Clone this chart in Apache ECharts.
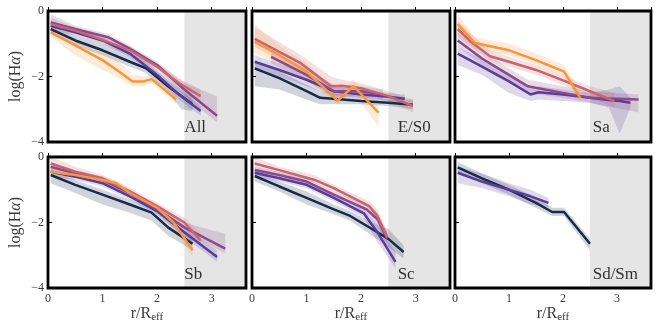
<!DOCTYPE html>
<html>
<head>
<meta charset="utf-8">
<script src="https://cdn.jsdelivr.net/npm/echarts@6/dist/echarts.min.js"></script>
<style>
  html, body { margin: 0; padding: 0; background: #fff; }
  #myChart { width: 658px; height: 327px; }
</style>
</head>
<body>
<div id="myChart"></div>
<script>
// each point: [r/Reff, log(Ha), band low, band high]
const navyAll = [[0.05,-0.55,-0.7,-0.4],[0.5,-0.9,-1.05,-0.75],[1,-1.2,-1.35,-1.0],[1.5,-1.55,-1.7,-1.3],[1.8,-1.75,-1.9,-1.5],[2.2,-2.3,-2.5,-2.1],[2.45,-2.6,-3.0,-2.4],[2.65,-2.85,-3.05,-2.65]];
const purpleAll = [[0.05,-0.45,-0.6,-0.3],[0.5,-0.65,-0.75,-0.55],[1,-0.9,-1.0,-0.8],[1.5,-1.3,-1.4,-1.2],[2,-1.95,-2.05,-1.85],[2.4,-2.55,-2.7,-2.4],[2.8,-3.05,-3.2,-2.9]];
const magentaAll = [[0.05,-0.35,-0.55,-0.1],[0.5,-0.55,-0.65,-0.45],[1.1,-0.8,-0.9,-0.7],[1.5,-1.15,-1.25,-1.05],[2,-1.65,-1.75,-1.55],[2.5,-2.4,-2.6,-2.2],[3.1,-3.2,-3.4,-2.6]];
const roseAll = [[0.05,-0.4,-0.5,-0.2],[0.5,-0.6,-0.7,-0.5],[1,-0.88,-0.98,-0.78],[1.5,-1.2,-1.3,-1.1],[2,-1.7,-1.8,-1.6],[2.4,-2.2,-2.35,-2.05],[2.8,-2.6,-2.8,-2.4]];
const orangeAll = [[0.05,-0.65,-0.8,-0.45],[0.5,-1.05,-1.35,-0.85],[1,-1.5,-1.8,-1.2],[1.3,-1.85,-2.05,-1.55],[1.55,-2.15,-2.3,-1.95],[1.75,-2.15,-2.3,-2.0],[1.9,-2.08,-2.2,-1.95],[2.35,-2.7,-2.85,-2.55]];

const navyE = [[0.05,-1.75,-2.3,-1.55],[0.5,-2.05,-2.4,-1.85],[1,-2.45,-2.7,-2.25],[1.25,-2.65,-2.85,-2.45],[2,-2.75,-2.85,-2.6],[2.5,-2.8,-2.9,-2.7],[2.95,-2.86,-3.0,-2.7]];
const purpleE = [[0.05,-1.55,-1.8,-1.35],[0.5,-1.8,-2.0,-1.6],[1,-2.1,-2.3,-1.9],[1.5,-2.45,-2.6,-2.3],[2,-2.55,-2.65,-2.4],[2.5,-2.62,-2.75,-2.5],[2.8,-2.68,-2.8,-2.55]];
const magentaE = [[0.35,-1.4,-1.6,-1.2],[1,-1.95,-2.15,-1.75],[1.5,-2.45,-2.6,-2.25],[2,-2.45,-2.6,-2.3],[2.4,-2.55,-2.7,-2.4]];
const roseE = [[0.05,-0.85,-1.1,-0.5],[0.5,-1.25,-1.5,-0.95],[0.9,-1.6,-1.85,-1.35],[1.45,-2.3,-2.45,-2.0],[1.65,-2.28,-2.45,-2.1],[2,-2.36,-2.5,-2.2],[2.5,-2.6,-2.75,-2.45],[2.95,-2.9,-3.1,-2.7]];
const orangeE = [[0.05,-0.94,-1.3,-0.4],[0.5,-1.35,-1.6,-1.05],[1,-1.85,-2.05,-1.6],[1.57,-2.74,-2.85,-2.5],[1.86,-2.29,-2.45,-2.1],[2.32,-3.1,-3.55,-2.9]];

const orangeSa = [[0.05,-0.4,-0.7,-0.1],[0.37,-0.98,-1.15,-0.8],[1,-1.2,-1.35,-1.0],[1.5,-1.5,-1.65,-1.3],[2.02,-1.85,-2.0,-1.65],[2.32,-2.65,-2.8,-2.45]];
const roseSa = [[0.05,-0.55,-0.8,-0.3],[0.3,-0.95,-1.1,-0.7],[0.65,-1.38,-1.5,-1.2],[1,-1.55,-1.7,-1.4],[1.5,-1.8,-1.95,-1.65],[2.05,-2.15,-2.3,-2.0],[2.5,-2.45,-2.65,-2.3],[2.95,-2.75,-2.95,-2.5]];
const magentaSa = [[0.05,-0.9,-1.1,-0.65],[0.5,-1.45,-1.65,-1.25],[1,-1.95,-2.15,-1.75],[1.35,-2.3,-2.5,-2.1],[2,-2.5,-2.65,-2.3],[2.5,-2.65,-2.8,-2.45],[3.4,-2.7,-3.1,-2.55]];
const purpleSa = [[0.05,-1.3,-1.65,-1.1],[0.5,-1.7,-1.95,-1.45],[1,-2.15,-2.5,-1.95],[1.4,-2.55,-2.75,-2.35],[1.55,-2.48,-2.7,-2.3],[2,-2.55,-2.75,-2.4],[2.5,-2.65,-2.8,-2.5],[2.85,-2.72,-2.95,-2.4],[3.05,-2.75,-3.75,-2.3],[3.25,-2.8,-2.95,-2.65]];

const navySb = [[0.05,-0.55,-0.8,-0.4],[0.5,-0.85,-1.1,-0.7],[1,-1.15,-1.45,-1.0],[1.5,-1.45,-1.7,-1.3],[1.9,-1.7,-1.95,-1.55],[2.2,-2.15,-2.4,-1.95],[2.65,-2.65,-2.85,-2.45]];
const purpleSb = [[0.05,-0.45,-0.6,-0.3],[0.5,-0.6,-0.7,-0.5],[1,-0.8,-0.9,-0.7],[1.5,-1.2,-1.3,-1.1],[2,-1.65,-1.75,-1.55],[2.5,-2.3,-2.45,-2.15],[3.1,-3.05,-3.2,-2.85]];
const magentaSb = [[0.05,-0.3,-0.45,-0.15],[0.5,-0.5,-0.6,-0.4],[1,-0.7,-0.8,-0.6],[1.5,-1.1,-1.2,-1.0],[2,-1.6,-1.7,-1.5],[2.5,-2.15,-2.3,-2.0],[3.25,-2.8,-2.95,-2.35]];
const roseSb = [[0.05,-0.2,-0.35,0],[0.5,-0.45,-0.55,-0.3],[1,-0.65,-0.75,-0.55],[1.5,-1.05,-1.15,-0.95],[2,-1.5,-1.6,-1.4],[2.5,-2.0,-2.15,-1.85],[2.8,-2.55,-2.7,-2.35]];
const orangeSb = [[0.05,-0.45,-0.6,-0.3],[0.5,-0.55,-0.65,-0.45],[1,-0.7,-0.8,-0.6],[1.25,-0.8,-0.9,-0.7],[1.5,-1.1,-1.2,-1.0],[2,-1.55,-1.65,-1.45],[2.3,-2.0,-2.15,-1.85],[2.65,-2.85,-3.05,-2.6]];

const navySc = [[0.05,-0.58,-0.75,-0.45],[0.5,-0.9,-1.05,-0.75],[1,-1.25,-1.45,-1.05],[1.5,-1.6,-1.75,-1.45],[1.8,-1.8,-1.95,-1.65],[2.2,-2.2,-2.4,-2.0],[2.5,-2.5,-2.75,-2.2],[2.78,-2.9,-3.1,-2.7]];
const purpleSc = [[0.05,-0.48,-0.6,-0.35],[0.5,-0.65,-0.75,-0.55],[1,-0.85,-0.95,-0.75],[1.5,-1.25,-1.35,-1.15],[2.05,-1.72,-1.85,-1.6],[2.3,-2.3,-2.6,-2.05],[2.63,-3.2,-3.4,-2.9]];
const magentaSc = [[0.05,-0.4,-0.5,-0.3],[0.5,-0.55,-0.65,-0.45],[1,-0.75,-0.85,-0.65],[1.5,-1.15,-1.25,-1.05],[2.1,-1.6,-1.75,-1.45],[2.3,-1.9,-2.1,-1.7],[2.48,-2.5,-2.7,-2.3]];
const roseSc = [[0.05,-0.2,-0.35,0],[0.5,-0.4,-0.5,-0.3],[1.15,-0.7,-0.8,-0.55],[1.5,-0.95,-1.05,-0.85],[2.15,-1.5,-1.6,-1.35],[2.3,-1.8,-1.95,-1.6],[2.48,-2.45,-2.6,-2.3]];

const navySd = [[0.05,-0.32,-0.5,-0.15],[0.5,-0.65,-0.8,-0.5],[1,-1.0,-1.15,-0.85],[1.5,-1.4,-1.55,-1.25],[1.8,-1.68,-1.8,-1.55],[2.02,-1.68,-1.8,-1.55],[2.5,-2.65,-2.85,-2.5]];
const purpleSd = [[0.05,-0.48,-0.8,-0.3],[0.5,-0.75,-0.95,-0.5],[1,-1.0,-1.2,-0.8],[1.4,-1.2,-1.45,-1.0],[1.73,-1.4,-1.55,-1.25]];

const panelNames = ['All', 'E/S0', 'Sa', 'Sb', 'Sc', 'Sd/Sm'];
const yTickValues = [-4, -2, 0];
const shadeFrom = 2.5;

const xMax = 3.63;
const colors = {navy: '#172b4c', purple: '#5a3c9a', magenta: '#8b4a8b', rose: '#c8656e', orange: '#f7963d'};

const panels = [
  [['navy', navyAll], ['purple', purpleAll], ['magenta', magentaAll], ['rose', roseAll], ['orange', orangeAll]],
  [['navy', navyE], ['purple', purpleE], ['magenta', magentaE], ['rose', roseE], ['orange', orangeE]],
  [['purple', purpleSa], ['magenta', magentaSa], ['rose', roseSa], ['orange', orangeSa]],
  [['navy', navySb], ['purple', purpleSb], ['magenta', magentaSb], ['rose', roseSb], ['orange', orangeSb]],
  [['navy', navySc], ['purple', purpleSc], ['magenta', magentaSc], ['rose', roseSc]],
  [['navy', navySd], ['purple', purpleSd]]
];
// left, top, width of each panel box
const boxes = [[48, 11, 198], [252, 11, 198], [455, 11, 196], [48, 157, 198], [252, 157, 198], [455, 157, 196]];
const labelAt = [[2.5, -3.55], [2.67, -3.55], [2.55, -3.55], [2.5, -3.6], [2.67, -3.6], [2.55, -3.6]];

function rgba(hex, a) {
  const n = parseInt(hex.slice(1), 16);
  return 'rgba(' + (n >> 16) + ',' + ((n >> 8) & 255) + ',' + (n & 255) + ',' + a + ')';
}

const serif = 'Liberation Serif';
let grids = [], xAxes = [], yAxes = [], series = [];

boxes.forEach(function (b, i) {
  const bottomRow = i >= 3, leftCol = i % 3 === 0;
  grids.push({left: b[0], top: b[1], width: b[2], height: 131, show: true, z: 10,
    borderColor: '#000', borderWidth: 2.8, backgroundColor: 'transparent', outerBoundsMode: 'none'});
  xAxes.push({
    type: 'value', gridIndex: i, min: 0, max: xMax, interval: 1, z: 10,
    axisLine: {show: false}, splitLine: {show: false},
    axisTick: {show: true, inside: true, length: 4, lineStyle: {color: '#000', width: 1}},
    axisLabel: {show: bottomRow, margin: 5, color: '#3a3a3a', fontSize: 12, fontFamily: serif,
      showMaxLabel: false},
    name: bottomRow ? 'r/R{s|eff}' : '', nameLocation: 'middle', nameGap: 17, nameMoveOverlap: false,
    nameTextStyle: {fontSize: 16, fontFamily: serif, color: '#3a3a3a',
      rich: {s: {fontSize: 11, fontFamily: serif, color: '#3a3a3a', padding: [7, 0, 0, 0]}}}
  });
  yAxes.push({
    type: 'value', gridIndex: i, min: -4, max: 0, interval: 2, z: 10,
    axisLine: {show: false}, splitLine: {show: false},
    axisTick: {show: true, inside: true, length: 4, lineStyle: {color: '#000', width: 1}},
    axisLabel: {show: leftCol, margin: 4, color: '#3a3a3a', fontSize: 12, fontFamily: serif,
      formatter: function (v) { return yTickValues.indexOf(v) < 0 ? '' : (v < 0 ? '\u2212' + Math.abs(v) : '' + v); }},
    name: leftCol ? 'log(H{a|\u03b1})' : '', nameLocation: 'middle', nameGap: 24, nameRotate: 90, nameMoveOverlap: false,
    nameTextStyle: {fontSize: 16, fontFamily: serif, color: '#3a3a3a',
      rich: {a: {fontSize: 16, fontFamily: serif, fontStyle: 'italic', color: '#3a3a3a'}}}
  });

  // grey zone beyond 2.5 Reff
  series.push({
    type: 'custom', xAxisIndex: i, yAxisIndex: i, z: 1, silent: true, clip: true,
    data: [[shadeFrom, 0]],
    renderItem: function (params, api) {
      const p0 = api.coord([shadeFrom, 0]);
      const p1 = api.coord([xMax, -4]);
      return {type: 'rect', shape: {x: p0[0], y: p0[1], width: p1[0] - p0[0], height: p1[1] - p0[1]},
        style: {fill: '#e5e5e5'}};
    }
  });

  // shaded bands
  panels[i].forEach(function (ln) {
    const pts = ln[1];
    series.push({
      type: 'custom', xAxisIndex: i, yAxisIndex: i, z: 2, silent: true, clip: true,
      data: [[pts[0][0], pts[0][1]]],
      renderItem: function (params, api) {
        const up = pts.map(function (p) { return api.coord([p[0], p[3]]); });
        const lo = pts.slice().reverse().map(function (p) { return api.coord([p[0], p[2]]); });
        return {type: 'polygon', shape: {points: up.concat(lo)}, style: {fill: rgba(colors[ln[0]], 0.2)}};
      }
    });
  });

  // median lines
  panels[i].forEach(function (ln) {
    series.push({
      type: 'line', xAxisIndex: i, yAxisIndex: i, z: 3, silent: true, clip: true,
      showSymbol: false, symbol: 'none',
      lineStyle: {color: colors[ln[0]], width: 2.5},
      data: ln[1].map(function (p) { return [p[0], p[1]]; })
    });
  });

  // panel label
  series.push({
    type: 'scatter', xAxisIndex: i, yAxisIndex: i, z: 5, silent: true, symbolSize: 0,
    data: [{value: labelAt[i], name: panelNames[i]}],
    label: {show: true, position: 'right', distance: 0, formatter: '{b}', color: '#000',
      fontSize: 17, fontFamily: serif}
  });
});

let myChart = echarts.init(document.getElementById('myChart'));
myChart.setOption({
  animation: false,
  grid: grids,
  xAxis: xAxes,
  yAxis: yAxes,
  series: series
});
</script>
</body>
</html>
